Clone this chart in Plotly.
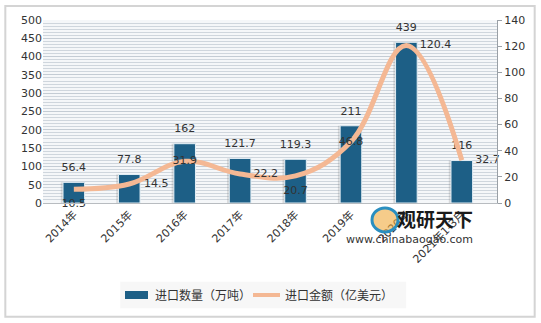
import plotly.graph_objects as go

# Import volume (10k tonnes) and import value (100M USD) by year
years = ["2014年", "2015年", "2016年", "2017年", "2018年", "2019年", "2020年", "2021年1-3月"]
volume = [56.4, 77.8, 162, 121.7, 119.3, 211, 439, 116]
value = [10.5, 14.5, 31.9, 22.2, 20.7, 46.8, 120.4, 32.7]
value_label_pos = ["bottom center", "middle right", "middle center", "middle right",
                   "bottom center", "middle center", "middle right", "middle right"]
# spacing between each value label and its point (invisible marker diameter, px)
value_label_gap = [13, 22, 0, 20, 14, 0, 20, 20]

left_ticks = [0, 50, 100, 150, 200, 250, 300, 350, 400, 450, 500]
right_ticks = [0, 20, 40, 60, 80, 100, 120, 140]

BAR = "#1d5f86"
LINE = "#f4b894"
TXT = "#333333"
FONT = "DejaVu Sans, Noto Sans CJK SC"
CJK = "Noto Sans CJK SC"

fig = go.Figure()

# faint shadow to the left of each bar
fig.add_trace(go.Bar(
    x=years, y=volume, width=0.42, offset=-0.235,
    marker=dict(color="rgba(110,110,110,0.22)", line=dict(width=0)),
    hoverinfo="skip", showlegend=False,
))
fig.add_trace(go.Bar(
    x=years, y=volume, name="进口数量（万吨）", width=0.39, offset=-0.195,
    marker=dict(color=BAR, line=dict(color="#e3eef5", width=1)),
    showlegend=False,
))
# bar value labels (transparent markers keep the text clear of the bar tops)
fig.add_trace(go.Scatter(
    x=years, y=volume, mode="markers+text", text=[f"{v:g}" for v in volume],
    marker=dict(size=12, opacity=0),
    textposition="top center", textfont=dict(size=11, color=TXT, family=FONT),
    cliponaxis=False, showlegend=False, hoverinfo="skip",
))
fig.add_trace(go.Scatter(
    x=years, y=value, name="进口金额（亿美元）", yaxis="y2",
    mode="lines", line=dict(color=LINE, width=5, shape="spline", smoothing=1.1),
    showlegend=False,
))
fig.add_trace(go.Scatter(
    x=years, y=value, yaxis="y2", mode="markers+text",
    marker=dict(size=value_label_gap, opacity=0),
    text=[f"{v:g}" for v in value], textposition=value_label_pos,
    textfont=dict(size=11, color=TXT, family=FONT), cliponaxis=False,
    showlegend=False, hoverinfo="skip",
))

fig.update_layout(
    width=541, height=323,
    margin=dict(l=43, r=44, t=20, b=120, autoexpand=False),
    paper_bgcolor="white", plot_bgcolor="#f5f7f9",
    barmode="overlay",
    font=dict(family=FONT, size=11, color=TXT),
    showlegend=False,
    xaxis=dict(tickangle=-45, tickfont=dict(size=11, color=TXT), automargin=False,
               showline=True, linecolor="#b8bcc0", linewidth=1, ticks="",
               showgrid=False),
    yaxis=dict(range=[0, 500], tickvals=left_ticks, tickfont=dict(size=11, color=TXT),
               automargin=False,
               showgrid=True, gridcolor="#c4ccd4", gridwidth=1,
               minor=dict(dtick=50 / 6, showgrid=True, gridcolor="#cfd6dd", gridwidth=1),
               zeroline=False, showline=False, ticks=""),
    yaxis2=dict(range=[0, 140], tickvals=right_ticks, overlaying="y", side="right",
                automargin=False,
                tickfont=dict(size=11, color=TXT), showgrid=False, zeroline=False,
                showline=True, linecolor="#9aa0a6", ticks="outside", ticklen=4,
                tickcolor="#9aa0a6"),
)

# outer frame of the chart
fig.add_shape(type="rect", xref="paper", yref="paper",
              x0=-0.083, x1=1.083, y0=-0.622, y1=1.076,
              line=dict(color="#d4d4d4", width=2), fillcolor="rgba(0,0,0,0)", layer="below")

# legend, drawn by hand
fig.add_shape(type="rect", xref="paper", yref="paper",
              x0=0.17, x1=0.80, y0=-0.575, y1=-0.43,
              line=dict(width=0), fillcolor="rgba(246,246,246,0.9)", layer="below")
fig.add_shape(type="rect", xref="paper", yref="paper",
              x0=0.1806, x1=0.2313, y0=-0.5246, y1=-0.4809,
              line=dict(width=0), fillcolor=BAR)
fig.add_annotation(xref="paper", yref="paper", x=0.2423, y=-0.5027,
                   xanchor="left", yanchor="middle", showarrow=False,
                   text="进口数量（万吨）", font=dict(size=12, color=TXT, family=CJK))
fig.add_shape(type="line", xref="paper", yref="paper",
              x0=0.4626, x1=0.522, y0=-0.5027, y1=-0.5027,
              line=dict(color=LINE, width=4))
fig.add_annotation(xref="paper", yref="paper", x=0.5286, y=-0.5027,
                   xanchor="left", yanchor="middle", showarrow=False,
                   text="进口金额（亿美元）", font=dict(size=12, color=TXT, family=CJK))

# site mark
fig.add_shape(type="circle", xref="paper", yref="paper",
              x0=0.7247, x1=0.782, y0=-0.158, y1=-0.027,
              line=dict(color="#2a8fc0", width=3), fillcolor="rgba(240,170,60,0.6)")
fig.add_annotation(xref="paper", yref="paper", x=0.9515, y=-0.082,
                   xanchor="right", yanchor="middle", showarrow=False,
                   text="<b>观研天下</b>",
                   font=dict(size=19, color="#1a1a1a", family=CJK))
fig.add_annotation(xref="paper", yref="paper", x=0.9515, y=-0.202,
                   xanchor="right", yanchor="middle", showarrow=False,
                   text="www.chinabaogao.com",
                   font=dict(size=11, color="#333333", family="DejaVu Sans"))

fig.write_html("out.html")
